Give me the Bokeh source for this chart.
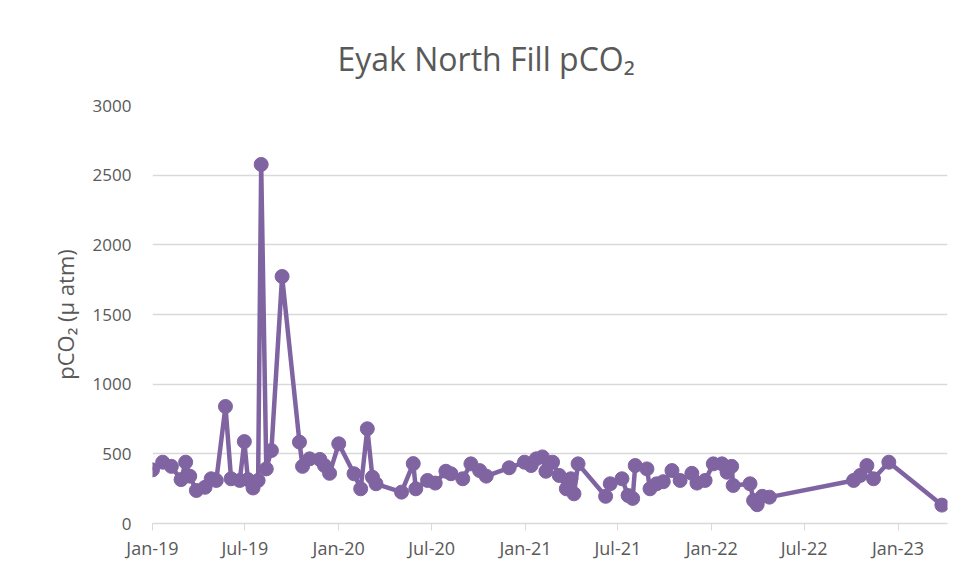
import pandas as pd
from datetime import datetime
from bokeh.plotting import figure
from bokeh.models import Range1d, FixedTicker, DatetimeTickFormatter, Title
from bokeh.embed import file_html
from bokeh.resources import INLINE

dates = [
    "2019-01-01", "2019-01-21", "2019-02-07", "2019-02-26", "2019-03-07", "2019-03-15",
    "2019-03-28", "2019-04-14", "2019-04-26", "2019-05-06", "2019-05-24", "2019-06-04",
    "2019-06-21", "2019-06-30", "2019-07-07", "2019-07-17", "2019-07-27", "2019-08-02",
    "2019-08-12", "2019-08-22", "2019-09-12", "2019-10-16", "2019-10-22", "2019-11-05",
    "2019-11-25", "2019-12-04", "2019-12-14", "2020-01-01", "2020-01-31", "2020-02-13",
    "2020-02-26", "2020-03-07", "2020-03-14", "2020-05-03", "2020-05-26", "2020-05-31",
    "2020-06-23", "2020-07-08", "2020-07-29", "2020-08-08", "2020-08-31", "2020-09-16",
    "2020-10-03", "2020-10-16", "2020-11-30", "2020-12-30", "2021-01-12", "2021-01-22",
    "2021-02-03", "2021-02-10", "2021-02-23", "2021-03-08", "2021-03-22", "2021-03-31",
    "2021-04-06", "2021-04-14", "2021-06-07", "2021-06-16", "2021-07-09", "2021-07-21",
    "2021-07-30", "2021-08-04", "2021-08-27", "2021-09-02", "2021-09-15", "2021-09-28",
    "2021-10-15", "2021-10-31", "2021-11-23", "2021-12-03", "2021-12-19", "2022-01-04",
    "2022-01-21", "2022-01-31", "2022-02-09", "2022-02-12", "2022-03-17", "2022-03-24",
    "2022-03-31", "2022-04-10", "2022-04-24", "2022-10-06", "2022-10-19", "2022-11-01",
    "2022-11-14", "2022-12-14", "2023-03-28",
]
pco2 = [
    385, 440, 410, 315, 440, 340,
    237, 260, 321, 309, 840, 321,
    309, 588, 315, 255, 309, 2577,
    392, 524, 1773, 584, 410, 464,
    460, 416, 360, 572, 357, 249,
    680, 332, 285, 225, 430, 249,
    309, 290, 375, 357, 321, 428,
    380, 340, 400, 440, 416, 464,
    478, 375, 440, 345, 249, 321,
    213, 428, 195, 285, 321, 201,
    180, 416, 392, 249, 285, 300,
    380, 309, 360, 290, 309, 428,
    428, 368, 410, 273, 285, 165,
    135, 195, 189, 309, 345, 416,
    321, 440, 132,
]
tick_dates = ["2019-01-01", "2019-07-01", "2020-01-01", "2020-07-01", "2021-01-01",
              "2021-07-01", "2022-01-01", "2022-07-01", "2023-01-01"]
y_ticks = [0, 500, 1000, 1500, 2000, 2500, 3000]

x = pd.to_datetime(dates)
purple = "#8064A2"
grey_text = "#595959"
font = "Open Sans"

p = figure(width=959, height=580, output_backend="svg", toolbar_location=None,
           x_axis_type="datetime",
           x_range=Range1d(datetime(2019, 1, 1), datetime(2023, 4, 8)),
           y_range=Range1d(0, 3000),
           min_border_left=152, min_border_right=12, min_border_top=105,
           min_border_bottom=57)

t = Title(text="Eyak North Fill pCO₂", align="left", offset=185,
          text_font=font, text_font_size="32px", text_font_style="normal",
          text_color=grey_text, standoff=52)
p.add_layout(t, "above")

p.line(x, pco2, line_color=purple, line_width=4.5)
p.scatter(x, pco2, size=14, fill_color=purple, line_color=purple)

p.outline_line_color = None
p.background_fill_color = "white"
p.border_fill_color = "white"

p.xgrid.grid_line_color = None
p.ygrid.grid_line_color = "#D9D9D9"
p.ygrid.grid_line_width = 1.3

p.yaxis.ticker = FixedTicker(ticks=y_ticks)
p.yaxis.axis_line_color = None
p.yaxis.major_tick_line_color = None
p.yaxis.minor_tick_line_color = None
p.yaxis.major_label_text_font = font
p.yaxis.major_label_text_font_size = "17px"
p.yaxis.major_label_text_color = grey_text
p.yaxis.major_label_standoff = 15
p.yaxis.axis_label = "pCO₂ (µ atm)"
p.yaxis.axis_label_text_font = font
p.yaxis.axis_label_text_font_size = "22px"
p.yaxis.axis_label_text_font_style = "normal"
p.yaxis.axis_label_text_color = grey_text
p.yaxis.axis_label_standoff = 10

tick_ms = [pd.Timestamp(d).value / 1e6 for d in tick_dates]
p.xaxis.ticker = FixedTicker(ticks=tick_ms)
p.xaxis.formatter = DatetimeTickFormatter(months="%b-%y", days="%b-%y", years="%b-%y")
p.xaxis.axis_line_color = "#D9D9D9"
p.xaxis.axis_line_width = 1.3
p.xaxis.major_tick_line_color = "#D9D9D9"
p.xaxis.major_tick_in = 0
p.xaxis.major_tick_out = 7
p.xaxis.minor_tick_line_color = None
p.xaxis.major_label_text_font = font
p.xaxis.major_label_text_font_size = "18px"
p.xaxis.major_label_text_color = grey_text
p.xaxis.major_label_standoff = 5

open("out.html", "w").write(file_html(p, INLINE))
